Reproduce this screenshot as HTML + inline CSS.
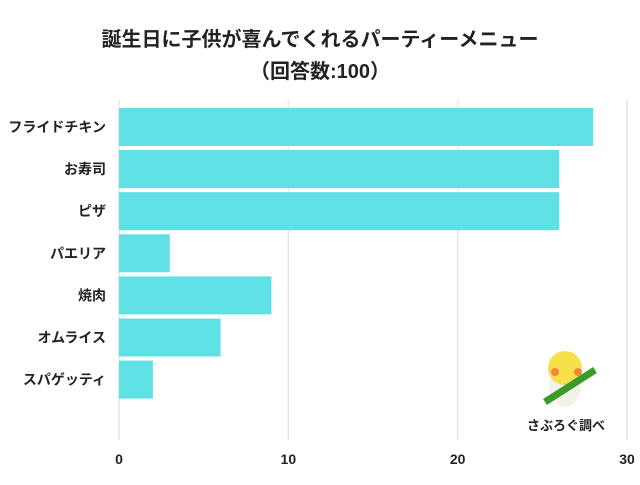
<!DOCTYPE html>
<html><head><meta charset="utf-8"><style>
body{margin:0;background:#fff;}
svg text{font-family:"Liberation Sans","Noto Sans CJK JP",sans-serif;font-weight:bold;fill:#222;}
</style></head><body>
<svg width="640" height="480" id="c">
<text x="320" y="46" text-anchor="middle" font-size="20">誕生日に子供が喜んでくれるパーティーメニュー</text>
<text x="320" y="78" text-anchor="middle" font-size="20">（回答数:100）</text>
<g id="grid"></g><g id="bars"></g><g id="labels"></g><g id="ticks"></g>
<g>
<ellipse cx="565" cy="385" rx="16" ry="22" fill="#f4f1ea"/>
<circle cx="565" cy="368" r="17" fill="#f8e04a"/>
<circle cx="555" cy="372" r="4" fill="#f08a3a"/>
<circle cx="578" cy="372" r="4" fill="#f08a3a"/>
<line x1="545" y1="402" x2="595" y2="370" stroke="#3a9a2a" stroke-width="7"/>
<text x="566" y="430" text-anchor="middle" font-size="13">さぶろぐ調べ</text>
</g>
</svg>
<script>
const categories=["フライドチキン","お寿司","ピザ","パエリア","焼肉","オムライス","スパゲッティ"];
const values=[28,26,26,3,9,6,2];
const ticks=[0,10,20,30];
const ns="http://www.w3.org/2000/svg";
const x0=119,x1=627,xmax=30;
const xs=v=>x0+(x1-x0)*v/xmax;
const yTop=108,pitch=42.1,bh=38;
function mk(t,a,p){const e=document.createElementNS(ns,t);for(const k in a)e.setAttribute(k,a[k]);document.getElementById(p).appendChild(e);return e;}
ticks.forEach(t=>{
 const l=mk("line",{x1:xs(t),x2:xs(t),y1:100,y2:440,stroke:"#e6e6e6","stroke-width":1.5},"grid");
 
 
 const tx=mk("text",{x:xs(t),y:464,"text-anchor":"middle","font-size":14},"ticks");
 tx.textContent=t;
 
 
});
categories.forEach((c,i)=>{
 const y=yTop+i*pitch;
 const r=mk("rect",{x:x0,y:y,width:xs(values[i])-x0,height:bh,fill:"#5fe0e4"},"bars");
 
 
 const t=mk("text",{x:106,y:y+bh/2+5,"text-anchor":"end","font-size":14},"labels");
 t.textContent=c;
 
 
});
</script>
</body></html>
